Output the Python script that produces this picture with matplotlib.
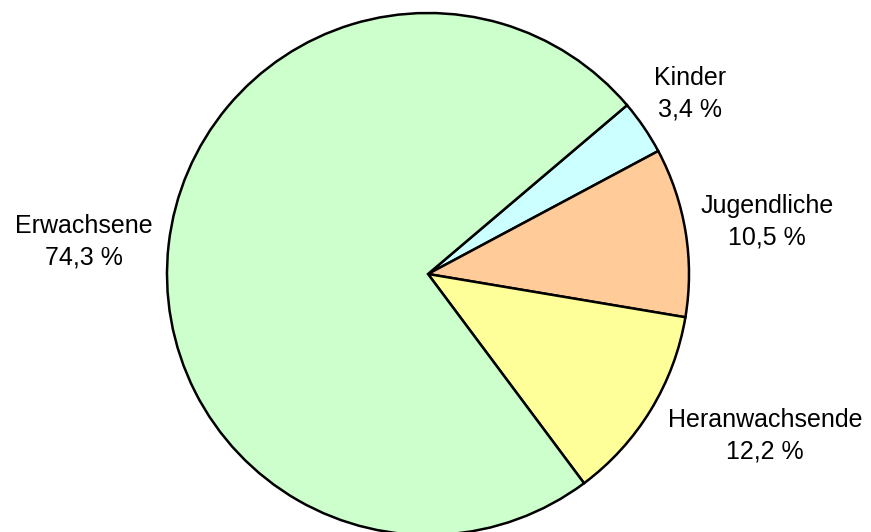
import matplotlib
matplotlib.use("Agg")
import matplotlib.pyplot as plt

# ---- data ----
categories = ["Kinder", "Jugendliche", "Heranwachsende", "Erwachsene"]
shares = [3.4, 10.5, 12.2, 74.3]
colors = ["#CCFFFF", "#FFCC99", "#FFFF99", "#CCFFCC"]

# ---- layout ----
W, H, DPI = 871, 532, 100
CX, CY, R = 428, 274, 261          # pie centre / radius in pixels (from top-left)
START_ANGLE = 40.3
# label block centres in pixels (from top-left)
label_px = [(690, 94), (767, 222), (765, 436), (84, 242)]

plt.rcParams['font.family'] = ['Liberation Sans', 'DejaVu Sans']

fig = plt.figure(figsize=(W / DPI, H / DPI), dpi=DPI)
ax = fig.add_axes([0, 0, 1, 1])

wedges, _ = ax.pie(shares, colors=colors, startangle=START_ANGLE,
                   counterclock=False, radius=1.0,
                   wedgeprops=dict(edgecolor="black", linewidth=1.8))

ax.set_xlim(-CX / R, (W - CX) / R)
ax.set_ylim((CY - H) / R, CY / R)
ax.set_aspect('auto')
ax.axis('off')

for name, val, (px, py) in zip(categories, shares, label_px):
    txt = f"{name}\n{val:.1f}".replace('.', ',') + " %"
    ax.text(px / W, 1 - py / H, txt, transform=ax.transAxes,
            ha='center', va='center', fontsize=18, linespacing=1.42,
            color='black')

fig.savefig("out.png", dpi=DPI, facecolor='white')
